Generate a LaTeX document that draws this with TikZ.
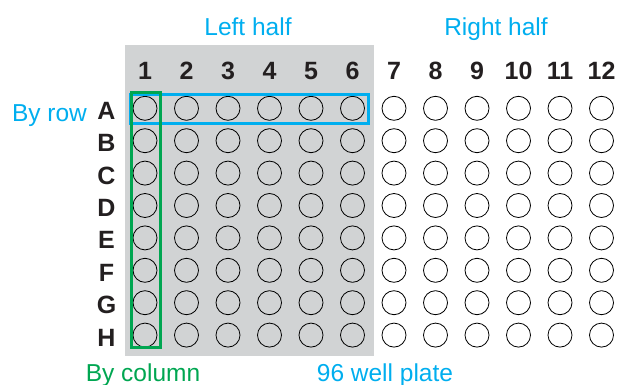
\documentclass[tikz,border=0pt]{standalone}
\usepackage{fontspec}
\setmainfont{Liberation Sans}
\definecolor{plategrey}{HTML}{D1D3D4}
\definecolor{selblue}{HTML}{00AEEF}
\definecolor{selgreen}{HTML}{00A651}
\definecolor{labelblack}{HTML}{231F20}
\begin{document}
\begin{tikzpicture}[x=1pt,y=-1pt,
  well/.style={circle,draw=black,line width=0.8pt,minimum size=24pt,inner sep=0pt},
  idx/.style={font=\fontsize{25}{30}\selectfont\bfseries,text=labelblack,anchor=base,inner sep=0pt},
  bluetext/.style={font=\fontsize{24.5}{30}\selectfont,text=selblue,anchor=base,inner sep=0pt},
  greentext/.style={font=\fontsize{24.5}{30}\selectfont,text=selgreen,anchor=base,inner sep=0pt},
  selrow/.style={draw=selblue,line width=3pt},
  selcol/.style={draw=selgreen,line width=3pt}]
\useasboundingbox (0,0) rectangle (618,385);
\fill[plategrey] (125,45) rectangle (374,356);
\foreach \c in {1,...,12} {
  \node[idx] (col\c) at ({145+(\c-1)*41.5},80) {\c};
}
\foreach \r [count=\i] in {A,B,C,D,E,F,G,H} {
  \node[idx] (row\r) at (106.5,{108.3+(\i-1)*32.4+11}) {\r};
  \foreach \c in {1,...,12} {
    \node[well] (w-\r-\c) at ({145+(\c-1)*41.5},{108.3+(\i-1)*32.4}) {};
  }
}
\node[bluetext] (lefthalf) at (248,36) {Left half};
\node[bluetext] (righthalf) at (496,36) {Right half};
\node[bluetext] (byrow) at (49.5,121.5) {By row};
\node[greentext] (bycol) at (143,381.5) {By column};
\node[bluetext] (plate) at (385,381.5) {96 well plate};
\draw[selrow] (130,95) rectangle (368,123.3);
\draw[selcol] (131,92.3) rectangle (160,347);
\end{tikzpicture}
\end{document}
